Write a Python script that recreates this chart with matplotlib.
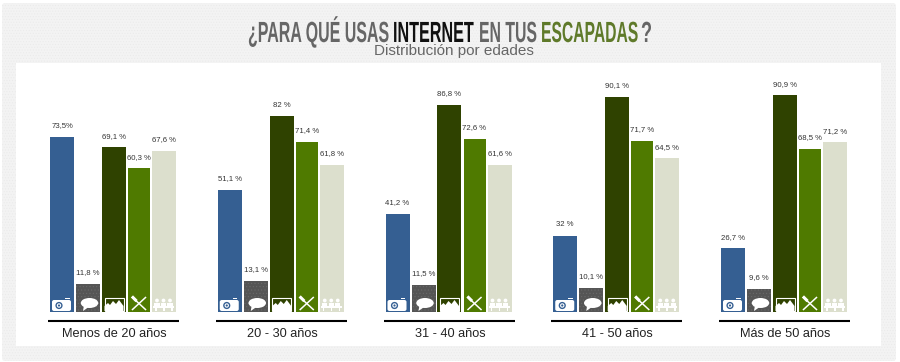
import matplotlib
matplotlib.use("Agg")
import matplotlib.pyplot as plt
import matplotlib.patheffects as pe
from matplotlib.patches import Rectangle, FancyBboxPatch, Ellipse, Polygon, Circle
from matplotlib.text import Text
from matplotlib.transforms import Affine2D, Bbox
import numpy as np

groups = ["Menos de 20 años", "20 - 30 años", "31 - 40 años", "41 - 50 años", "Más de 50 años"]
camera = [73.5, 51.1, 41.2, 32, 26.7]
chat = [11.8, 13.1, 11.5, 10.1, 9.6]
photos = [69.1, 82, 86.8, 90.1, 90.9]
food = [60.3, 71.4, 72.6, 71.7, 68.5]
people = [67.6, 61.8, 61.6, 64.5, 71.2]
camera_labels = ["73,5%", "51,1 %", "41,2 %", "32 %", "26,7 %"]
chat_labels = ["11,8 %", "13,1 %", "11,5 %", "10,1 %", "9,6 %"]
photos_labels = ["69,1 %", "82 %", "86,8 %", "90,1 %", "90,9 %"]
food_labels = ["60,3 %", "71,4 %", "72,6 %", "71,7 %", "68,5 %"]
people_labels = ["67,6 %", "61,8 %", "61,6 %", "64,5 %", "71,2 %"]
series = [camera, chat, photos, food, people]
series_labels = [camera_labels, chat_labels, photos_labels, food_labels, people_labels]
colors = ["#355f92", "#555555", "#2f4200", "#4f7a00", "#dcdfcd"]
bar_offsets_px = [0, 26, 52, 78, 102]
bar_widths_px = [24, 24, 24, 22, 24]

W, H = 900, 362
GROUP_PX = 167.75
NARROW = ["Liberation Sans Narrow", "Liberation Sans", "DejaVu Sans"]
plt.rcParams["hatch.linewidth"] = 0.4
fig = plt.figure(figsize=(W / 100, H / 100), dpi=100, facecolor="white")

bg = fig.add_axes([0, 0, 1, 1])
bg.set_xlim(0, W); bg.set_ylim(H, 0); bg.axis("off")
bg.add_patch(FancyBboxPatch((2, 3), 894, 358, boxstyle="round,pad=0,rounding_size=3", fc="#f3f3f3", ec="#eaeaea",
                            lw=0, hatch="......"))
bg.add_patch(Rectangle((16, 63), 865, 283, fc="white", ec="none"))


class StretchX(pe.AbstractPathEffect):
    def __init__(self, sx):
        super().__init__()
        self.sx = sx

    def draw_path(self, renderer, gc, tpath, affine, rgbFace=None):
        renderer.draw_path(gc, tpath, Affine2D().scale(self.sx, 1) + affine, rgbFace)


class StretchedText(Text):
    """Text squeezed horizontally from its left edge; the extent reports the drawn width."""
    sx = 1.0

    def get_window_extent(self, renderer=None, dpi=None):
        b = super().get_window_extent(renderer, dpi)
        return Bbox.from_extents(b.x0, b.y0, b.x0 + b.width * self.sx, b.y1)


title_parts = [("¿PARA QUÉ USAS", 248, 389, "#666666"), ("INTERNET", 393, 474, "#111111"),
               ("EN TUS", 479, 537, "#666666"), ("ESCAPADAS", 541, 638, "#5f7a2a"), ("?", 641, 652, "#666666")]
renderer = fig.canvas.get_renderer()
for s, x0, x1, c in title_parts:
    t = StretchedText(x0, 42, s, family=NARROW, weight="bold", fontsize=21, color=c, ha="left", va="baseline")
    bg.add_artist(t)
    t.sx = (x1 - x0) / t.get_window_extent(renderer).width
    t.set_path_effects([StretchX(t.sx)])
bg.text(454, 51, "Distribución por edades", family=NARROW, fontsize=11, color="#666666", ha="center", va="center")

# chart axes: baseline at y=312, 2.385 px per unit, one x unit per group
top_px = 63
ax = fig.add_axes([16 / W, 1 - 312 / H, 865 / W, (312 - top_px) / H])
ax.patch.set_alpha(0)
ax.set_ylim(0, (312 - top_px) / 2.385)
ax.set_xlim((16 - 50) / GROUP_PX, (881 - 50) / GROUP_PX)
ax.axis("off")
for k, (vals, labs, col) in enumerate(zip(series, series_labels, colors)):
    xs = np.arange(len(groups)) + bar_offsets_px[k] / GROUP_PX
    width = bar_widths_px[k] / GROUP_PX
    if k == 1:
        ax.bar(xs, vals, width=width, align="edge", color=col, edgecolor="#6a6a6a", linewidth=0, hatch=".....")
    else:
        ax.bar(xs, vals, width=width, align="edge", color=col, linewidth=0)
    for x, v, lab in zip(xs, vals, labs):
        ax.annotate(lab, (x + width / 2, v), xytext=(0, 8), textcoords="offset points", ha="center", va="center",
                    family=NARROW, fontsize=5.6, color="#333333")


def icon(kind, x0):
    """Small white pictogram at the foot of a bar; x0 is the bar's left edge in pixels."""
    w = "white"
    y0 = 297
    if kind == 0:
        o.add_patch(FancyBboxPatch((x0 + 2, y0 + 3), 19, 11, boxstyle="round,pad=0,rounding_size=2", fc=w, ec="none"))
        o.add_patch(Circle((x0 + 9, y0 + 8.5), 3.6, fc="#355f92", ec="none"))
        o.add_patch(Circle((x0 + 9, y0 + 8.5), 2.2, fc=w, ec="none"))
        o.add_patch(Circle((x0 + 9, y0 + 8.5), 1.1, fc="#355f92", ec="none"))
        o.add_patch(Rectangle((x0 + 15, y0 + 1), 4.5, 1.2, fc=w, ec="none"))
    elif kind == 1:
        o.add_patch(Ellipse((x0 + 13.5, y0 + 6), 17.5, 10, fc=w, ec="none"))
        o.add_patch(Polygon([(x0 + 8, y0 + 8), (x0 + 12, y0 + 10.5), (x0 + 7, y0 + 14)], fc=w, ec="none"))
    elif kind == 2:
        o.add_patch(Rectangle((x0 + 2.5, y0 + 1), 19, 13, fc="none", ec=w, lw=0.8))
        o.add_patch(Polygon([(x0 + 2.5, y0 + 14), (x0 + 2.5, y0 + 9), (x0 + 6, y0 + 6), (x0 + 8, y0 + 8), (x0 + 11, y0 + 4),
                             (x0 + 14, y0 + 7), (x0 + 17, y0 + 3), (x0 + 21.5, y0 + 9), (x0 + 21.5, y0 + 14)], fc=w, ec="none"))
    elif kind == 3:
        o.plot([x0 + 4.5, x0 + 17.5], [y0 + 0.5, y0 + 12.5], color=w, lw=1.1)
        o.plot([x0 + 17.5, x0 + 4.5], [y0 + 0.5, y0 + 12.5], color=w, lw=1.1)
        o.plot([x0 + 5, x0 + 7.5], [y0 + 0.5, y0 + 3], color=w, lw=2.2)
    else:
        for dx in (5, 11.5, 18):
            o.add_patch(Circle((x0 + dx, y0 + 3.5), 1.9, fc=w, ec="none"))
            o.add_patch(Rectangle((x0 + dx - 2.6, y0 + 5.5), 5.2, 3.5, fc=w, ec="none"))
        o.add_patch(Rectangle((x0 + 1, y0 + 9), 21, 1.8, fc=w, ec="none"))
        for dx in (3, 11, 19):
            o.add_patch(Rectangle((x0 + dx, y0 + 10.5), 1.6, 3, fc=w, ec="none"))


o = fig.add_axes([0, 0, 1, 1])
o.patch.set_alpha(0)
o.set_xlim(0, W); o.set_ylim(H, 0); o.axis("off")
for i, g in enumerate(groups):
    left = 50 + GROUP_PX * i
    for k in range(5):
        icon(k, left + bar_offsets_px[k])
    o.plot([left - 2, left + 129], [321, 321], color="black", lw=1.5, solid_capstyle="butt")
    o.text(left + 64.5, 334, g, family="Liberation Sans", fontsize=9.2, color="#222222", ha="center", va="center")

fig.savefig("out.png", dpi=100)
